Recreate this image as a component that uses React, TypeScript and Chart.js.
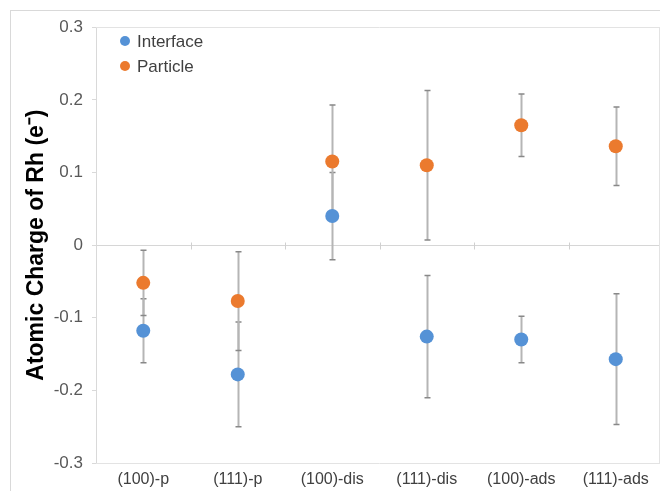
import React, { useEffect, useRef } from "react";
import { Chart, registerables } from "chart.js";

Chart.register(...registerables);

const categories = ["(100)-p", "(111)-p", "(100)-dis", "(111)-dis", "(100)-ads", "(111)-ads"];
const interfaceVals = [-0.118, -0.178, 0.04, -0.126, -0.13, -0.157];
const interfaceErr = [0.044, 0.072, 0.06, 0.084, 0.032, 0.09];
const particleVals = [-0.052, -0.077, 0.115, 0.11, 0.165, 0.136];
const particleErr = [0.045, 0.068, 0.078, 0.103, 0.043, 0.054];
const yTicks = [-0.3, -0.2, -0.1, 0, 0.1, 0.2, 0.3];
const seriesNames = ["Interface", "Particle"];

const BLUE = "#5592D6";
const ORANGE = "#EB7A2E";
const FONT = "Arial, 'Liberation Sans', sans-serif";

const decorPlugin = {
  id: "decor",
  beforeDraw(chart: any) {
    const ctx = chart.ctx;
    ctx.save();
    ctx.strokeStyle = "#d9d9d9";
    ctx.lineWidth = 1;
    ctx.strokeRect(2.5, 2.5, chart.width + 20, chart.height + 20);
    ctx.restore();
  },
  beforeDatasetsDraw(chart: any) {
    const ctx = chart.ctx;
    const { left, right, top, bottom } = chart.chartArea;
    const x = chart.scales.x;
    const y = chart.scales.y;
    ctx.save();
    // plot border
    ctx.strokeStyle = "#e3e3e3";
    ctx.lineWidth = 1;
    ctx.beginPath();
    ctx.moveTo(left, Math.round(top) + 0.5);
    ctx.lineTo(right, Math.round(top) + 0.5);
    ctx.moveTo(left, Math.round(bottom) + 0.5);
    ctx.lineTo(right, Math.round(bottom) + 0.5);
    ctx.moveTo(Math.round(right) - 3.5, top);
    ctx.lineTo(Math.round(right) - 3.5, bottom);
    ctx.stroke();
    // category tick marks on zero line
    const y0 = Math.round(y.getPixelForValue(0)) + 0.5;
    ctx.strokeStyle = "#d0d0d0";
    ctx.beginPath();
    for (let i = 0; i < categories.length - 1; i++) {
      const bx = Math.round((x.getPixelForValue(i) + x.getPixelForValue(i + 1)) / 2) + 0.5;
      ctx.moveTo(bx, y0 - 3);
      ctx.lineTo(bx, y0 + 4);
    }
    ctx.stroke();
    // error bars
    const series = [
      { vals: interfaceVals, errs: interfaceErr },
      { vals: particleVals, errs: particleErr },
    ];
    series.forEach((s) => {
      s.vals.forEach((v, i) => {
        const px = Math.round(x.getPixelForValue(i)) + 0.5;
        const yTop = y.getPixelForValue(v + s.errs[i]);
        const yBot = y.getPixelForValue(v - s.errs[i]);
        ctx.strokeStyle = "#b5b5b5";
        ctx.lineWidth = 2;
        ctx.beginPath();
        ctx.moveTo(px, yTop);
        ctx.lineTo(px, yBot);
        ctx.stroke();
        ctx.strokeStyle = "#888888";
        ctx.lineWidth = 1.5;
        ctx.beginPath();
        ctx.moveTo(px - 3, yTop);
        ctx.lineTo(px + 3, yTop);
        ctx.moveTo(px - 3, yBot);
        ctx.lineTo(px + 3, yBot);
        ctx.stroke();
      });
    });
    ctx.restore();
  },
  afterDraw(chart: any) {
    const ctx = chart.ctx;
    ctx.save();
    const items = chart.data.datasets.map((d: any) => ({ label: d.label, color: d.backgroundColor }));
    items.forEach((it: any, i: number) => {
      const cy = 33 + i * 25;
      ctx.fillStyle = it.color;
      ctx.beginPath();
      ctx.arc(117, cy, 5, 0, Math.PI * 2);
      ctx.fill();
      ctx.fillStyle = "#404040";
      ctx.font = `17px ${FONT}`;
      ctx.textBaseline = "middle";
      ctx.textAlign = "left";
      ctx.fillText(it.label, 129, cy + 1);
    });
    ctx.restore();
  },
};

export default function App() {
  const ref = useRef<HTMLCanvasElement>(null);
  useEffect(() => {
    if (!ref.current) return;
    const chart = new Chart(ref.current, {
      type: "line",
      data: {
        labels: categories,
        datasets: [
          {
            label: seriesNames[0],
            data: interfaceVals,
            showLine: false,
            backgroundColor: BLUE,
            borderColor: BLUE,
            pointRadius: 7,
            pointBorderWidth: 0,
          },
          {
            label: seriesNames[1],
            data: particleVals,
            showLine: false,
            backgroundColor: ORANGE,
            borderColor: ORANGE,
            pointRadius: 7,
            pointBorderWidth: 0,
          },
        ],
      },
      options: {
        animation: false,
        responsive: false,
        devicePixelRatio: 1,
        layout: { padding: { left: 0, right: 0, top: 17, bottom: 0 } },
        plugins: { legend: { display: false }, tooltip: { enabled: false } },
        scales: {
          x: {
            type: "category",
            offset: true,
            grid: { display: false, drawTicks: false },
            border: { display: false },
            ticks: {
              color: "#404040",
              font: { size: 16, family: FONT },
              padding: 7,
              maxRotation: 0,
              autoSkip: false,
            },
            afterFit(scale: any) {
              scale.height = 28;
            },
          },
          y: {
            min: -0.3,
            max: 0.3,
            afterBuildTicks(scale: any) {
              scale.ticks = yTicks.map((v) => ({ value: v }));
            },
            ticks: {
              color: "#595959",
              font: { size: 17, family: FONT },
              padding: 9,
              callback: (v: any) => String(Number(Number(v).toFixed(1))),
            },
            grid: {
              color: (c: any) => (c.tick && Math.abs(c.tick.value) < 1e-9 ? "#d6d6d6" : "rgba(0,0,0,0)"),
              tickColor: "#d9d9d9",
              tickLength: 4,
              lineWidth: 1,
            },
            border: { display: true, color: "#d9d9d9" },
            title: {
              display: true,
              text: "Atomic Charge of Rh (e\u207B)",
              color: "#000000",
              font: { size: 23, weight: "bold", family: FONT },
              padding: { top: 15, bottom: 0 },
            },
            afterFit(scale: any) {
              scale.width = 88;
            },
          },
        },
      },
      plugins: [decorPlugin],
    } as any);
    return () => chart.destroy();
  }, []);
  return (
    <div style={{ width: 660, height: 483, overflow: "hidden", position: "relative" }}>
      <canvas ref={ref} width={662} height={483} style={{ display: "block" }} />
    </div>
  );
}
